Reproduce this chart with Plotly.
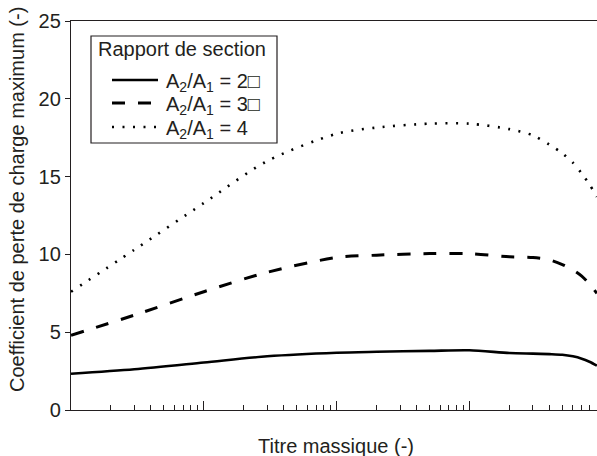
import plotly.graph_objects as go

# Titre massique (-) sample positions
x_vals = [1e-4, 3e-4, 1e-3, 3e-3, 1e-2, 2e-2, 5e-2, 0.1, 0.2, 0.3, 0.4, 0.5, 0.6, 0.7, 0.8, 0.91]

# Coefficient de perte de charge maximum (-)
k_ratio2 = [2.33, 2.62, 3.05, 3.45, 3.68, 3.74, 3.80, 3.84, 3.66, 3.62, 3.59, 3.55, 3.45, 3.30, 3.10, 2.85]
k_ratio3 = [4.80, 6.10, 7.60, 8.85, 9.80, 9.95, 10.05, 10.05, 9.85, 9.80, 9.65, 9.35, 9.00, 8.60, 8.10, 7.50]
k_ratio4 = [7.60, 10.30, 13.30, 16.00, 17.75, 18.15, 18.40, 18.40, 18.05, 17.65, 17.05, 16.50, 15.90, 15.20, 14.50, 13.70]

legend_title = "Rapport de section"
series_names = ["A<sub>2</sub>/A<sub>1</sub> = 2\u25a1",
                "A<sub>2</sub>/A<sub>1</sub> = 3\u25a1",
                "A<sub>2</sub>/A<sub>1</sub> = 4"]
x_title = "Titre massique (-)"
y_title = "Coefficient de perte de charge maximum (-)"

y_ticks = [0, 5, 10, 15, 20, 25]
major_x = [1e-4, 1e-3, 1e-2, 1e-1]
minor_x = [m * d for d in [1e-4, 1e-3, 1e-2, 1e-1] for m in range(2, 10)]

FONT = "Arial, Liberation Sans, Helvetica, sans-serif"
INK = "#231f20"

W, H = 597, 456
L, R, T, B = 71, 0, 21, 46
PW, PH = W - L - R, H - T - B


def px(xp):
    return (xp - L) / PW


def py(yp):
    return (H - B - yp) / PH


fig = go.Figure()
styles = [
    dict(width=2.6, dash="solid"),
    dict(width=3, dash="13px,13px"),
    dict(width=2.6, dash="2px,8.5px"),
]
for name, ys, st in zip(series_names, [k_ratio2, k_ratio3, k_ratio4], styles):
    fig.add_trace(go.Scatter(
        x=x_vals, y=ys, mode="lines", name=name, showlegend=False,
        line=dict(color="black", width=st["width"], dash=st["dash"],
                  shape="spline", smoothing=0.8),
    ))

# legend box drawn in paper space
shapes = [dict(type="rect", xref="paper", yref="paper",
               x0=px(91), x1=px(277), y0=py(36), y1=py(143),
               line=dict(color=INK, width=1.2), fillcolor="white", layer="above")]
annotations = [dict(text=legend_title, xref="paper", yref="paper",
                    x=px(96), y=py(49), xanchor="left", yanchor="middle",
                    showarrow=False, font=dict(size=20, color=INK))]
row_y = [80, 103, 127]
for name, ry, st in zip(series_names, row_y, styles):
    shapes.append(dict(type="line", xref="paper", yref="paper",
                       x0=px(112), x1=px(158), y0=py(ry), y1=py(ry),
                       line=dict(color="black", width=st["width"], dash=st["dash"]),
                       layer="above"))
    annotations.append(dict(text=name, xref="paper", yref="paper",
                            x=px(164), y=py(ry + 2), xanchor="left", yanchor="middle",
                            showarrow=False, font=dict(size=20, color=INK)))

annotations.append(dict(text=x_title, xref="paper", yref="paper",
                        x=px(336), y=py(446), xanchor="center", yanchor="middle",
                        showarrow=False, font=dict(size=20, color=INK)))
annotations.append(dict(text=y_title, xref="paper", yref="paper",
                        x=px(17), y=py(200), xanchor="center", yanchor="middle",
                        textangle=-90, showarrow=False, font=dict(size=20, color=INK)))

fig.update_layout(
    width=W, height=H,
    margin=dict(l=L, r=R, t=T, b=B),
    paper_bgcolor="white", plot_bgcolor="white",
    font=dict(family=FONT, size=20, color=INK),
    showlegend=False,
    shapes=shapes, annotations=annotations,
)

fig.update_xaxes(
    type="log", range=[-4, -0.04], automargin=False,
    showgrid=False, zeroline=False,
    showline=True, linecolor=INK, linewidth=1.3, mirror=True,
    tickvals=major_x, showticklabels=False,
    ticks="inside", ticklen=9, tickwidth=1.2, tickcolor=INK,
    minor=dict(tickvals=minor_x, ticks="inside", ticklen=5, tickwidth=1.2,
               tickcolor=INK, showgrid=False),
)

fig.update_yaxes(
    range=[0, 25], tickvals=y_ticks, automargin=False,
    showgrid=False, zeroline=False,
    showline=True, linecolor=INK, linewidth=1.3,
    ticks="outside", ticklen=5, tickwidth=1.2, tickcolor=INK,
    tickfont=dict(size=20),
)

fig.write_html("out.html",
               config={"displayModeBar": False},
               post_script="document.body.style.margin='0';document.body.style.overflow='hidden';")
